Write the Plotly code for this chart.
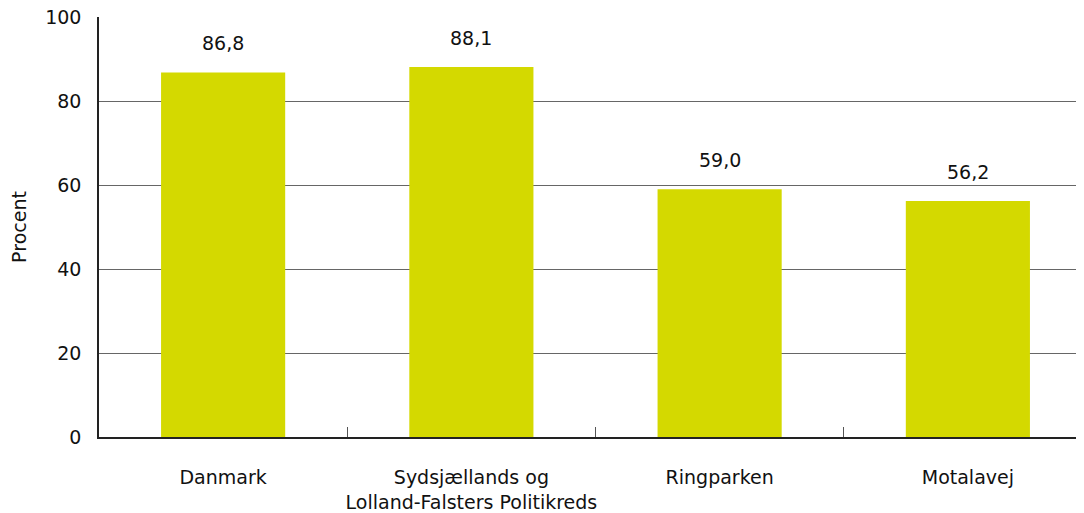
import plotly.graph_objects as go

categories = ["Danmark", "Sydsjællands og<br>Lolland-Falsters Politikreds", "Ringparken", "Motalavej"]
values = [86.8, 88.1, 59.0, 56.2]
value_labels = ["86,8", "88,1", "59,0", "56,2"]
y_ticks = [0, 20, 40, 60, 80, 100]

FONT = "DejaVu Sans, sans-serif"
FS = 19

fig = go.Figure()
fig.add_trace(go.Bar(
    x=categories, y=values, width=0.5,
    marker=dict(color="#d4d900", line=dict(width=0)),
    hoverinfo="skip",
))
for c, v, t in zip(categories, values, value_labels):
    fig.add_annotation(x=c, y=v, text=t, showarrow=False, yanchor="bottom", yshift=16,
                       font=dict(family=FONT, size=FS, color="#111"))

fig.update_layout(
    width=1084, height=513,
    margin=dict(l=91, r=0, t=9, b=84),
    plot_bgcolor="white", paper_bgcolor="white",
    showlegend=False,
    font=dict(family=FONT, size=FS, color="#111"),
    xaxis=dict(
        range=[-0.5, 3.5], tickson="boundaries", ticks="inside", ticklen=10,
        tickcolor="#555", tickwidth=1, automargin=False, tickangle=0,
        ticklabeloverflow="allow",
        showline=True, linecolor="#222", linewidth=2,
        showgrid=False, ticklabelstandoff=22,
        tickfont=dict(family=FONT, size=FS, color="#111"),
    ),
    yaxis=dict(
        range=[0, 100], tickvals=y_ticks, ticks="", showgrid=True,
        gridcolor="#666", gridwidth=1, automargin=False,
        ticklabeloverflow="allow",
        showline=True, linecolor="#222", linewidth=1.5,
        zeroline=False, ticklabelstandoff=12,
        title=dict(text="Procent", standoff=16, font=dict(family=FONT, size=FS, color="#111")),
        tickfont=dict(family=FONT, size=FS, color="#111"),
    ),
)
fig.write_html("out.html")
